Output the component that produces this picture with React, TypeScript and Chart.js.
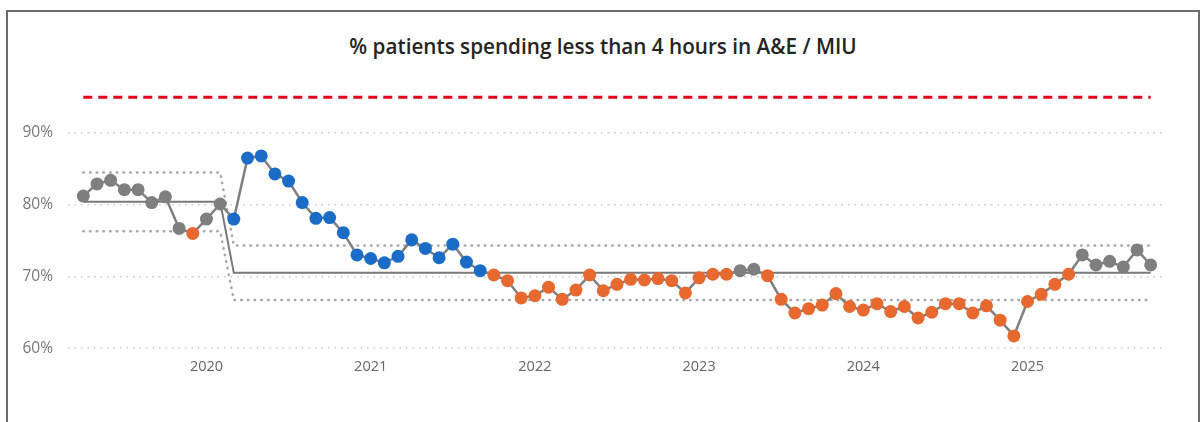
import React, { useEffect, useRef } from "react";
import { Chart, registerables } from "chart.js";

Chart.register(...registerables);

const chartTitle = "% patients spending less than 4 hours in A&E / MIU";

// Monthly series: Apr 2019 .. Oct 2025
const startYear = 2019;
const startMonth = 4;
const values = [
  81.2, 82.9, 83.4, 82.1, 82.1, 80.3, 81.1, 76.7, 76.0, 78.0, 80.1,
  78.0, 86.5, 86.8, 84.3, 83.3, 80.3, 78.1, 78.2, 76.1, 73.0,
  72.5, 71.9, 72.8, 75.1, 73.9, 72.6, 74.5, 72.0, 70.8,
  70.2, 69.4, 67.0, 67.3, 68.5, 66.8, 68.1, 70.2, 68.0, 68.9, 69.6,
  69.5, 69.7, 69.4, 67.7, 69.8, 70.3, 70.3, 70.8, 71.0, 70.1,
  66.8, 64.9, 65.5, 66.0, 67.6, 65.8, 65.3, 66.2, 65.1, 65.8,
  64.2, 65.0, 66.2, 66.2, 64.9, 65.9, 63.9, 61.7, 66.5, 67.5,
  68.9, 70.3, 73.0, 71.6, 72.1, 71.3, 73.7, 71.6,
];

// SPC signal runs: n = common cause, i = improvement, c = concern
const signalRuns: [string, number][] = [
  ["n", 8], ["c", 1], ["n", 2], ["i", 19], ["c", 18], ["n", 2], ["c", 23], ["n", 6],
];

// Process phases (index ranges) with mean and control limits
const phaseStart = [0, 11];
const phaseEnd = [10, 78];
const phaseMean = [80.4, 70.5];
const phaseUpper = [84.5, 74.3];
const phaseLower = [76.3, 66.7];

const targetValue = 95;

const yTicks = [60, 70, 80, 90];
const yearTickIndex = [9, 21, 33, 45, 57, 69];
const yearTickLabels = ["2020", "2021", "2022", "2023", "2024", "2025"];

const signalColors: Record<string, string> = {
  n: "#7f7f7f",
  i: "#1a6cc6",
  c: "#e8692f",
};

const monthLabels = values.map((_, i) => {
  const m = (startMonth - 1 + i) % 12;
  const y = startYear + Math.floor((startMonth - 1 + i) / 12);
  return `${y}-${String(m + 1).padStart(2, "0")}`;
});

export default function App() {
  const canvasRef = useRef<HTMLCanvasElement | null>(null);

  useEffect(() => {
    if (!canvasRef.current) return;

    const signals: string[] = [];
    signalRuns.forEach(([s, n]) => {
      for (let k = 0; k < n; k++) signals.push(s);
    });

    const mainPoints = values.map((v, i) => ({ x: i, y: v, label: monthLabels[i] }));
    const phaseLine = (arr: number[]) => {
      const pts: { x: number; y: number }[] = [];
      arr.forEach((v, p) => {
        pts.push({ x: phaseStart[p], y: v });
        pts.push({ x: phaseEnd[p], y: v });
      });
      return pts;
    };

    const chart = new Chart(canvasRef.current, {
      type: "line",
      data: {
        datasets: [
          {
            data: mainPoints as any,
            borderColor: "#7f7f7f",
            borderWidth: 2.5,
            pointRadius: 6.5,
            pointBorderWidth: 0,
            pointBackgroundColor: signals.map((s) => signalColors[s]),
            tension: 0,
          },
          {
            data: phaseLine(phaseMean),
            borderColor: "#7a7a7a",
            borderWidth: 2,
            pointRadius: 0,
          },
          {
            data: phaseLine(phaseUpper),
            borderColor: "#a6a6a6",
            borderWidth: 2.5,
            borderDash: [0.5, 6.2],
            borderCapStyle: "round",
            pointRadius: 0,
          },
          {
            data: phaseLine(phaseLower),
            borderColor: "#a6a6a6",
            borderWidth: 2.5,
            borderDash: [0.5, 6.2],
            borderCapStyle: "round",
            pointRadius: 0,
          },
          {
            data: [
              { x: 0, y: targetValue },
              { x: values.length - 1, y: targetValue },
            ],
            borderColor: "#e3001b",
            borderWidth: 3,
            borderDash: [9, 6],
            pointRadius: 0,
          },
        ],
      },
      options: {
        animation: false,
        responsive: false,
        maintainAspectRatio: false,
        devicePixelRatio: 1,
        layout: { padding: { left: 8, right: 37, top: 90, bottom: 26 } },
        plugins: {
          legend: { display: false },
          tooltip: { enabled: false },
          title: { display: false },
        },
        scales: {
          x: {
            type: "linear",
            min: -1.118,
            max: 78.9,
            grid: { display: false, drawTicks: false },
            border: { display: false },
            afterBuildTicks: (scale: any) => {
              scale.ticks = yearTickIndex.map((v) => ({ value: v }));
            },
            afterFit: (scale: any) => {
              scale.height = 40;
            },
            ticks: {
              padding: 2,
              color: "#666666",
              font: { family: "'Open Sans', sans-serif", size: 14.5 },
              autoSkip: false,
              maxRotation: 0,
              callback: (v: any) => {
                const k = yearTickIndex.indexOf(Number(v));
                return k >= 0 ? yearTickLabels[k] : "";
              },
            },
          },
          y: {
            type: "linear",
            min: 58.9,
            max: 96,
            grid: { color: "#cccccc", lineWidth: 1.5, drawTicks: false },
            border: { display: false, dash: [1.5, 5] },
            afterBuildTicks: (scale: any) => {
              scale.ticks = yTicks.map((v) => ({ value: v }));
            },
            afterFit: (scale: any) => {
              scale.width = 60;
            },
            ticks: {
              padding: 15,
              color: "#777777",
              font: { family: "'Open Sans', sans-serif", size: 15.5 },
              callback: (v: any) => `${v}%`,
            },
          },
        },
      },
    });

    return () => chart.destroy();
  }, []);

  return (
    <div style={{ position: "absolute", left: 0, top: 0, width: 1200, height: 422, overflow: "hidden", background: "#fff" }}>
      <div
        style={{
          position: "absolute",
          left: 6,
          top: 10,
          width: 1194,
          height: 440,
          border: "2px solid #6b6b6b",
          boxSizing: "border-box",
        }}
      />
      <div
        style={{
          position: "absolute",
          left: 303,
          top: 32,
          width: 600,
          height: 28,
          lineHeight: "28px",
          textAlign: "center",
          fontFamily: "'Open Sans', sans-serif",
          fontSize: 20.7,
          fontWeight: 600,
          color: "#252423",
          whiteSpace: "nowrap",
        }}
      >
        {chartTitle}
      </div>
      <canvas
        ref={canvasRef}
        width={1200}
        height={422}
        style={{ position: "absolute", left: 0, top: 0, width: 1200, height: 422 }}
      />
    </div>
  );
}
